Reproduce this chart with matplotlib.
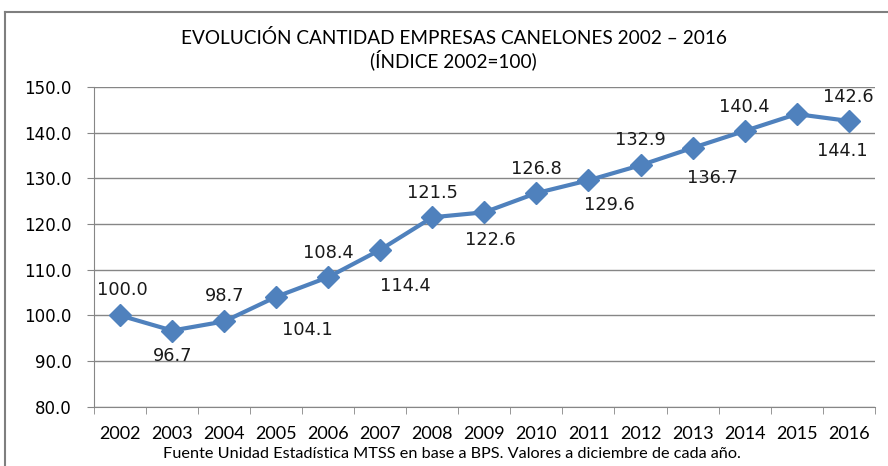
# Evolucion cantidad de empresas en Canelones, indice 2002=100
import numpy as np
import matplotlib.pyplot as plt
from matplotlib.lines import Line2D

years = ['2002', '2003', '2004', '2005', '2006', '2007', '2008', '2009',
         '2010', '2011', '2012', '2013', '2014', '2015', '2016']
index = [100.0, 96.7, 98.7, 104.1, 108.4, 114.4, 121.5, 122.6,
         126.8, 129.6, 132.9, 136.7, 140.4, 144.1, 142.6]
yticks = [80, 90, 100, 110, 120, 130, 140, 150]

# label offsets in pixels (dx, dy) - the ones below were dragged around by hand in excel
label_off = [(2, 25), (0, -25), (0, 25), (31, -33), (0, 24), (25, -36), (0, 24), (6, -28),
             (0, 24), (21, -25), (0, 25), (20, -30), (0, 24), (46, -37), (0, 24)]

fig = plt.figure(figsize=(8.88, 4.66), dpi=100)
ax = fig.add_axes([0.106, 0.127, 0.879, 0.686])

x = np.arange(len(years))
ax.plot(x, index, color='#4F81BD', lw=3, marker='D', ms=11, zorder=3)

for i, v in enumerate(index):
    ax.annotate(f'{v:.1f}', (i, v), xytext=label_off[i], textcoords='offset pixels',
                ha='center', va='center', fontsize=12.8, color='#1a1a1a',
                family='DejaVu Sans')

ax.set_xlim(-0.5, len(years) - 0.5)
ax.set_ylim(80, 150)
ax.set_yticks(yticks)
ax.set_yticklabels([f'{t:.1f}' for t in yticks], family='DejaVu Sans', fontsize=12)
ax.yaxis.grid(True, color='#868686', lw=1)
ax.set_axisbelow(True)

ax.set_xticks(x)
ax.set_xticklabels(years, family='Lato', fontsize=13)
ax.set_xticks(np.arange(len(years) + 1) - 0.5, minor=True)
ax.tick_params(axis='x', which='major', length=0, pad=14)
ax.tick_params(axis='x', which='minor', length=5, color='#868686')
ax.tick_params(axis='y', length=5, color='#868686', pad=11)

for side in ['top', 'right']:
    ax.spines[side].set_visible(False)
for side in ['left', 'bottom']:
    ax.spines[side].set_color('#868686')

fig.text(0.511, 0.918, 'EVOLUCIÓN CANTIDAD EMPRESAS CANELONES 2002 – 2016',
         ha='center', va='center', family='Lato', fontsize=13.7)
fig.text(0.511, 0.871, '(ÍNDICE 2002=100)', ha='center', va='center',
         family='Lato', fontsize=13.7)
fig.text(0.509, 0.026, 'Fuente Unidad Estadística MTSS en base a BPS. Valores a diciembre de cada año.',
         ha='center', va='center', family='Lato', fontsize=11.7)

# chart frame (cut off at right/bottom in the original)
fig.add_artist(Line2D([0.0056, 0.0056], [0, 0.974], color='#7f7f7f', lw=1.5))
fig.add_artist(Line2D([0.0056, 1.0], [0.974, 0.974], color='#7f7f7f', lw=1.5))

fig.savefig('out.png', dpi=100)
